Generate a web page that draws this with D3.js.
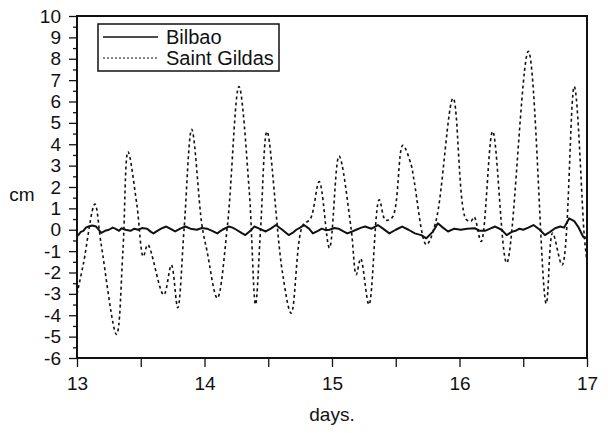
<!DOCTYPE html>
<html>
<head>
<meta charset="utf-8">
<script src="https://cdn.jsdelivr.net/npm/d3@7"></script>
<style>
  body { margin: 0; background: #fff; }
  text { font-family: "Liberation Sans", Arial, sans-serif; fill: #111; }
</style>
</head>
<body>
<div class="chart"></div>
<script>
// Saint Gildas surge (cm)
var gildasDays = [13.00, 13.05, 13.14, 13.19, 13.31, 13.36, 13.40, 13.47, 13.52, 13.555,
    13.68, 13.74, 13.79, 13.84, 13.90, 13.98, 14.02, 14.10, 14.18, 14.27,
    14.35, 14.40, 14.44, 14.49, 14.61, 14.68, 14.77, 14.83, 14.90, 14.98,
    15.055, 15.15, 15.19, 15.225, 15.29, 15.37, 15.42, 15.475, 15.555, 15.62,
    15.645, 15.74, 15.815, 15.95, 16.05, 16.09, 16.115, 16.17, 16.26, 16.37,
    16.54, 16.68, 16.73, 16.805, 16.90, 16.98, 17.00];
var gildasValues = [-3.0, -1.6, 1.2, -0.7, -4.9, -1.0, 3.65, 1.15, -1.25, -0.7,
    -3.05, -1.65, -3.65, 0.05, 4.7, 0.2, -1.0, -3.2, 0.2, 6.7,
    1.9, -3.5, 0.05, 4.6, -1.95, -3.9, 0.2, 0.5, 2.25, -0.85,
    3.45, 0.05, -2.1, -1.35, -3.5, 1.4, 0.45, 0.6, 3.95, 3.05,
    2.25, -0.7, 0.4, 6.15, 0.5, 0.4, 0.6, -0.55, 4.6, -1.55,
    8.35, -3.45, -0.15, -1.65, 6.7, -0.4, -1.5];

// Bilbao surge (cm)
var bilbaoDays = [13.00, 13.01, 13.03, 13.05, 13.07, 13.09, 13.12, 13.15, 13.17, 13.19,
    13.22, 13.25, 13.28, 13.30, 13.33, 13.35, 13.38, 13.42, 13.45, 13.48,
    13.51, 13.55, 13.58, 13.60, 13.63, 13.66, 13.70, 13.73, 13.77, 13.81,
    13.85, 13.89, 13.94, 13.98, 14.02, 14.06, 14.10, 14.14, 14.19, 14.22,
    14.25, 14.29, 14.32, 14.36, 14.39, 14.43, 14.48, 14.52, 14.56, 14.61,
    14.66, 14.69, 14.72, 14.75, 14.78, 14.82, 14.85, 14.89, 14.92, 14.95,
    14.98, 15.02, 15.05, 15.09, 15.12, 15.16, 15.19, 15.23, 15.26, 15.31,
    15.36, 15.40, 15.45, 15.50, 15.55, 15.60, 15.65, 15.70, 15.74, 15.79,
    15.83, 15.87, 15.91, 15.96, 16.01, 16.06, 16.12, 16.16, 16.20, 16.24,
    16.28, 16.33, 16.37, 16.41, 16.44, 16.47, 16.50, 16.54, 16.58, 16.63,
    16.67, 16.71, 16.75, 16.79, 16.82, 16.86, 16.90, 16.93, 16.97, 17.00];
var bilbaoValues = [-0.3, -0.25, -0.1, -0.05, 0.1, 0.15, 0.2, 0.15, 0.0, -0.15,
    -0.05, 0.0, 0.1, 0.05, -0.05, 0.07, 0.0, -0.05, 0.05, 0.0,
    0.08, 0.05, -0.1, -0.17, -0.05, 0.05, 0.15, 0.05, -0.08, 0.05,
    0.15, 0.05, 0.0, 0.08, 0.05, -0.05, -0.17, 0.0, 0.15, 0.1,
    0.0, -0.15, -0.25, -0.05, 0.15, 0.05, -0.08, 0.05, 0.22, 0.0,
    -0.25, -0.15, 0.0, 0.1, 0.22, 0.05, -0.17, -0.05, 0.05, -0.02,
    0.0, 0.08, 0.05, -0.08, -0.17, -0.08, 0.0, 0.1, 0.15, 0.05,
    0.22, 0.05, -0.17, 0.0, 0.15, 0.0, -0.17, -0.25, -0.4, -0.1,
    0.3, 0.1, -0.08, 0.05, 0.0, 0.05, 0.07, -0.05, -0.05, 0.05,
    0.15, 0.0, -0.25, -0.1, -0.05, 0.05, 0.0, 0.1, 0.22, 0.0,
    -0.25, -0.1, 0.07, 0.15, 0.1, 0.53, 0.4, 0.15, -0.33, -0.4];

var seriesNames = ["Bilbao", "Saint Gildas"];
var xTicks = [13, 14, 15, 16, 17];
var yTicks = [-6, -5, -4, -3, -2, -1, 0, 1, 2, 3, 4, 5, 6, 7, 8, 9, 10];

var width = 608, height = 433;
var margin = { left: 77, right: 21, top: 16, bottom: 75 };

var svg = d3.select(".chart")
    .append("svg")
    .attr("width", width)
    .attr("height", height);

var x = d3.scaleLinear()
    .domain([13, 17])
    .range([margin.left, width - margin.right]);

var y = d3.scaleLinear()
    .domain([-6, 10])
    .range([height - margin.bottom, margin.top]);

var bilbao = bilbaoDays.map(function (d, i) { return [d, bilbaoValues[i]]; });
var gildas = gildasDays.map(function (d, i) { return [d, gildasValues[i]]; });

var smoothLine = d3.line()
    .x(function (d) { return x(d[0]); })
    .y(function (d) { return y(d[1]); })
    .curve(d3.curveCatmullRom.alpha(0.5));

var roughLine = d3.line()
    .x(function (d) { return x(d[0]); })
    .y(function (d) { return y(d[1]); });

var plot = svg.append("g");

plot.append("path")
    .datum(gildas)
    .attr("d", smoothLine)
    .attr("fill", "none")
    .attr("stroke", "#111")
    .attr("stroke-width", 1.6)
    .attr("stroke-dasharray", "3,3");

plot.append("path")
    .datum(bilbao)
    .attr("d", roughLine)
    .attr("fill", "none")
    .attr("stroke", "#111")
    .attr("stroke-width", 2)
    .attr("stroke-linejoin", "round");

// axes
var xAxis = d3.axisBottom(x)
    .tickValues(d3.range(13, 17.01, 0.5))
    .tickSize(9)
    .tickFormat(function (d) { return xTicks.indexOf(d) >= 0 ? String(d) : ""; });

svg.append("g")
    .attr("class", "x_axis")
    .attr("transform", "translate(0," + y(-6) + ")")
    .call(xAxis);

var yAxis = d3.axisLeft(y)
    .tickValues(yTicks)
    .tickSize(8)
    .tickPadding(8)
    .tickFormat(function (d) { return String(d); });

svg.append("g")
    .attr("class", "y_axis")
    .attr("transform", "translate(" + x(13) + ",0)")
    .call(yAxis);

// half-unit minor ticks on y
svg.append("g")
    .attr("transform", "translate(" + x(13) + ",0)")
    .call(d3.axisLeft(y).tickValues(d3.range(-5.5, 10, 1)).tickSize(4).tickFormat(""));

svg.selectAll(".domain").remove();
svg.selectAll(".tick line").attr("stroke", "#111").attr("stroke-width", 1.3);
svg.selectAll(".x_axis text, .y_axis text")
    .style("font-family", "'Liberation Sans', Arial, sans-serif")
    .style("font-size", "19px")
    .attr("fill", "#111");
svg.selectAll(".x_axis text").attr("dy", "1.05em");

// frame
svg.append("rect")
    .attr("x", x(13))
    .attr("y", y(10))
    .attr("width", x(17) - x(13))
    .attr("height", y(-6) - y(10))
    .attr("fill", "none")
    .attr("stroke", "#111")
    .attr("stroke-width", 2);

// axis titles
svg.append("text")
    .attr("x", (x(13) + x(17)) / 2)
    .attr("y", 421)
    .style("text-anchor", "middle")
    .style("font-size", "19px")
    .text("days.");

svg.append("text")
    .attr("x", 22)
    .attr("y", 201)
    .style("text-anchor", "middle")
    .style("font-size", "19px")
    .text("cm");

// legend
var legend = svg.append("g");

legend.append("rect")
    .attr("x", 98)
    .attr("y", 24)
    .attr("width", 181)
    .attr("height", 47)
    .attr("fill", "#fff")
    .attr("stroke", "#111")
    .attr("stroke-width", 1.5);

legend.selectAll("legend_lines")
    .data(seriesNames)
    .enter()
    .append("line")
    .attr("x1", 103)
    .attr("x2", 158)
    .attr("y1", function (d, i) { return 37 + i * 21; })
    .attr("y2", function (d, i) { return 37 + i * 21; })
    .attr("stroke", "#111")
    .attr("stroke-width", function (d, i) { return i == 0 ? 1.5 : 1.2; })
    .attr("stroke-dasharray", function (d, i) { return i == 0 ? null : "2,2"; });

legend.selectAll("legend_text")
    .data(seriesNames)
    .enter()
    .append("text")
    .attr("x", 166)
    .attr("y", function (d, i) { return 44 + i * 21; })
    .style("font-size", "20px")
    .text(function (d) { return d; });
</script>
</body>
</html>
